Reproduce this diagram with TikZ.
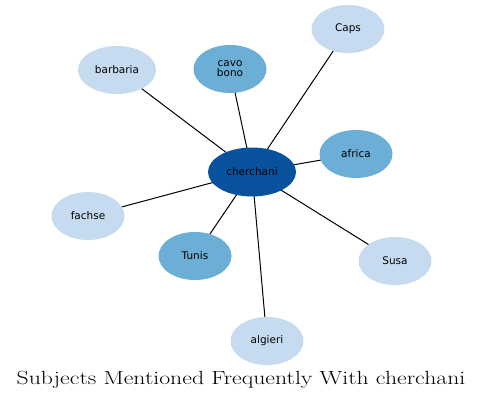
\documentclass[tikz,border=0pt]{standalone}
\usepackage{fontspec}
\newfontfamily\labelfont{DejaVu Sans}
\usetikzlibrary{shapes.geometric,backgrounds}
\definecolor{hubblue}{HTML}{08519C}
\definecolor{midblue}{HTML}{6BAED6}
\definecolor{paleblue}{HTML}{C6DBEF}
\tikzset{
  topic/.style={ellipse, minimum width=73pt, minimum height=48pt, inner sep=0pt,
    font=\labelfont\fontsize{10.5}{12}\selectfont, align=center},
  hub/.style={topic, fill=hubblue, minimum width=88pt, minimum height=49pt},
  near/.style={topic, fill=midblue},
  far/.style={topic, fill=paleblue},
  link/.style={black, line width=1pt}
}
\begin{document}
\begin{tikzpicture}[x=1pt,y=-1pt]
\useasboundingbox (0,0) rectangle (484,401);
% topic nodes
\node[hub] (cherchani) at (252,172) {cherchani};
\node[far] (caps) at (348,29) {Caps};
\node[near] (cavobono) at (230,69) {cavo\\[-2pt]bono};
\node[far, minimum width=78pt] (barbaria) at (117,70) {barbaria};
\node[near] (africa) at (356,154) {africa};
\node[far] (fachse) at (88,216) {fachse};
\node[near] (tunis) at (195,256) {Tunis};
\node[far] (susa) at (395,261) {Susa};
\node[far] (algieri) at (267,341) {algieri};
% links to the hub
\begin{scope}[on background layer]
\foreach \n in {caps,cavobono,barbaria,africa,fachse,tunis,susa,algieri}
  \draw[link] (cherchani.center) -- (\n.center);
\end{scope}
\node (title) at (241,380) {\scalebox{1.25}[1]{\fontsize{19}{22}\selectfont Subjects Mentioned Frequently With cherchani}};
\end{tikzpicture}
\end{document}
